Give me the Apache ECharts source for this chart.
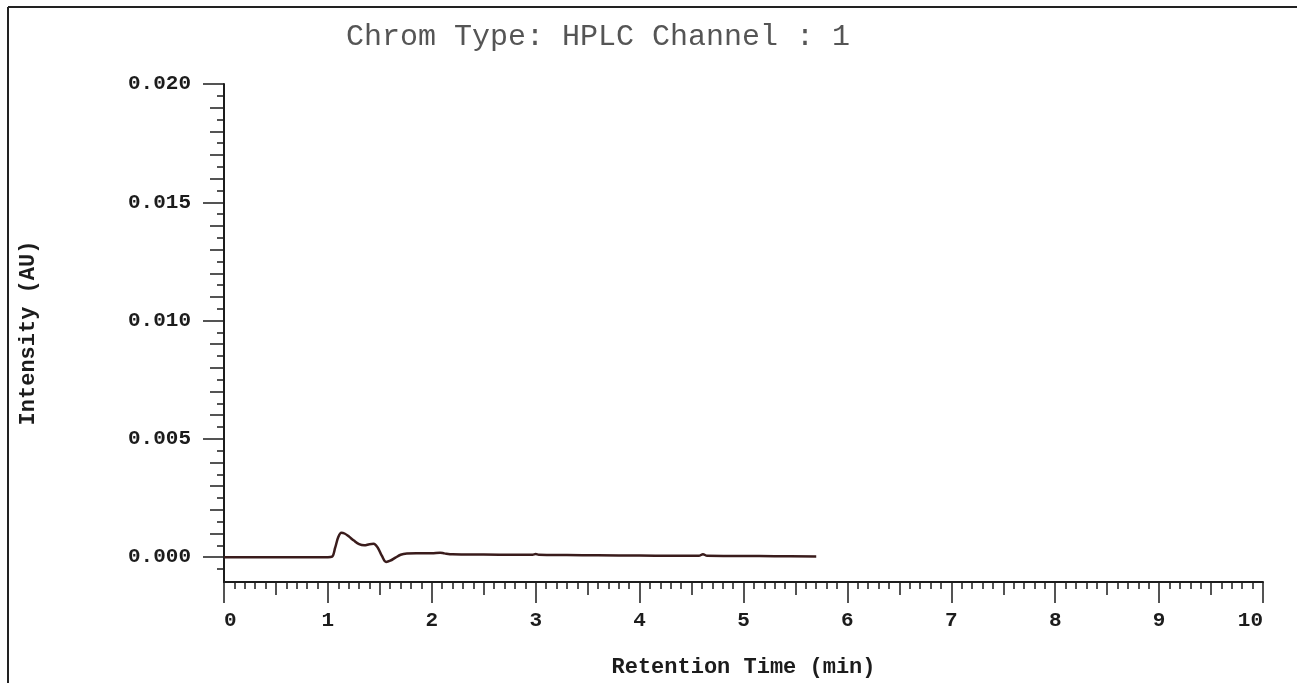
<!DOCTYPE html>
<html>
<head>
<meta charset="utf-8">
<script src="https://cdn.jsdelivr.net/npm/echarts@6/dist/echarts.min.js"></script>
<style>
  html, body { margin: 0; padding: 0; background: #fff; }
  #chart { width: 1297px; height: 683px; }
</style>
</head>
<body>
<div id="chart"></div>
<script>
// Chromatogram trace: retention time (min) and detector intensity (AU)
const retentionTime = [0, 0.5, 1.0, 1.04, 1.07, 1.10, 1.13, 1.16, 1.20, 1.25, 1.30, 1.35, 1.40, 1.44, 1.48,
  1.52, 1.56, 1.60, 1.65, 1.70, 1.76, 1.85, 2.0, 2.08, 2.12, 2.2, 2.5, 2.8, 2.97, 3.0, 3.03, 3.3, 3.6,
  4.0, 4.3, 4.57, 4.61, 4.65, 5.0, 5.3, 5.7];
const intensity = [0, 0, 0, 0.00002, 0.0004, 0.00085, 0.00103, 0.001, 0.00088, 0.0007, 0.00055, 0.0005,
  0.00055, 0.00057, 0.0004, 0.00005, -0.0002, -0.00015, -0.00002, 0.0001, 0.00015, 0.00016, 0.00016,
  0.00019, 0.00016, 0.00012, 0.00011, 0.0001, 0.0001, 0.00013, 0.0001, 0.00009, 0.00008, 0.00007,
  0.00006, 0.00006, 0.00012, 0.00006, 0.00005, 0.00004, 0.00003];

// Axis tick labels
const xTickLabels = [0, 1, 2, 3, 4, 5, 6, 7, 8, 9, 10];
const yTickLabels = [0, 0.005, 0.010, 0.015, 0.020];

const titleText = 'Chrom Type: HPLC Channel : 1';
const xAxisName = 'Retention Time (min)';
const yAxisName = 'Intensity (AU)';

const X_MIN = 0, X_MAX = 10, Y_MIN = -0.00105, Y_MAX = 0.020;

// Secondary tick positions (decoration only)
const xHalfTicks = [], xMinorTicks = [];
for (let i = 0; i <= 100; i++) {
  if (i % 10 === 0) continue;
  if (i % 5 === 0) xHalfTicks.push(i / 10); else xMinorTicks.push(i / 10);
}
const yMidTicks = [], yMinorTicks = [];
for (let i = -1; i <= 40; i++) {
  if (i % 10 === 0) continue;
  if (i % 2 === 0) yMidTicks.push(i / 2000); else yMinorTicks.push(i / 2000);
}

const ink = '#1c1c1c';
const mono = '"Liberation Mono", "DejaVu Sans Mono", monospace';

function xAxisLayer(values, len, withLabels) {
  return {
    type: 'value', min: X_MIN, max: X_MAX, position: 'bottom', gridIndex: 0,
    axisLine: { show: withLabels, onZero: false, lineStyle: { color: ink, width: 2 } },
    axisTick: { show: true, customValues: values, length: len, lineStyle: { color: ink, width: 1.5 } },
    axisLabel: withLabels ? {
      customValues: values, color: ink, fontFamily: mono, fontWeight: 'bold', fontSize: 21,
      margin: 28, alignMinLabel: 'left', alignMaxLabel: 'right', formatter: v => String(v)
    } : { show: false },
    splitLine: { show: false },
    name: withLabels ? xAxisName : '', nameLocation: 'middle', nameGap: 74,
    nameTextStyle: { color: ink, fontFamily: mono, fontWeight: 'bold', fontSize: 22 }
  };
}

function yAxisLayer(values, len, withLabels) {
  return {
    type: 'value', min: Y_MIN, max: Y_MAX, position: 'left', gridIndex: 0,
    axisLine: { show: withLabels, onZero: false, lineStyle: { color: ink, width: 2 } },
    axisTick: { show: true, customValues: values, length: len, lineStyle: { color: ink, width: 1.5 } },
    axisLabel: withLabels ? {
      customValues: values, color: ink, fontFamily: mono, fontWeight: 'bold', fontSize: 21,
      margin: 33, formatter: v => v.toFixed(3)
    } : { show: false },
    splitLine: { show: false },
    name: withLabels ? yAxisName : '', nameLocation: 'middle', nameGap: 185, nameRotate: 90,
    nameTextStyle: { color: ink, fontFamily: mono, fontWeight: 'bold', fontSize: 22 }
  };
}

const chart = echarts.init(document.getElementById('chart'), null, { renderer: 'canvas' });
chart.setOption({
  backgroundColor: '#fff',
  animation: false,
  title: {
    text: titleText, left: 593, top: 17, textAlign: 'center',
    textStyle: { color: '#555', fontFamily: mono, fontWeight: 'normal', fontSize: 30 }
  },
  grid: { left: 224, right: 34, top: 84, bottom: 101, containLabel: false },
  xAxis: [
    xAxisLayer(xTickLabels, 21, true),
    xAxisLayer(xHalfTicks, 13, false),
    xAxisLayer(xMinorTicks, 7, false)
  ],
  yAxis: [
    yAxisLayer(yTickLabels, 21, true),
    yAxisLayer(yMidTicks, 14, false),
    yAxisLayer(yMinorTicks, 7, false)
  ],
  series: [{
    type: 'line',
    xAxisIndex: 0, yAxisIndex: 0,
    data: retentionTime.map((t, i) => [t, intensity[i]]),
    smooth: 0.35,
    showSymbol: false,
    lineStyle: { color: '#3a1c1c', width: 2.5 }
  }],
  graphic: [
    // page frame: top and left edges
    { type: 'line', shape: { x1: 8, y1: 7, x2: 1297, y2: 7 }, style: { stroke: '#222', lineWidth: 2 } },
    { type: 'line', shape: { x1: 8, y1: 7, x2: 8, y2: 683 }, style: { stroke: '#222', lineWidth: 2 } }
  ]
});
</script>
</body>
</html>
